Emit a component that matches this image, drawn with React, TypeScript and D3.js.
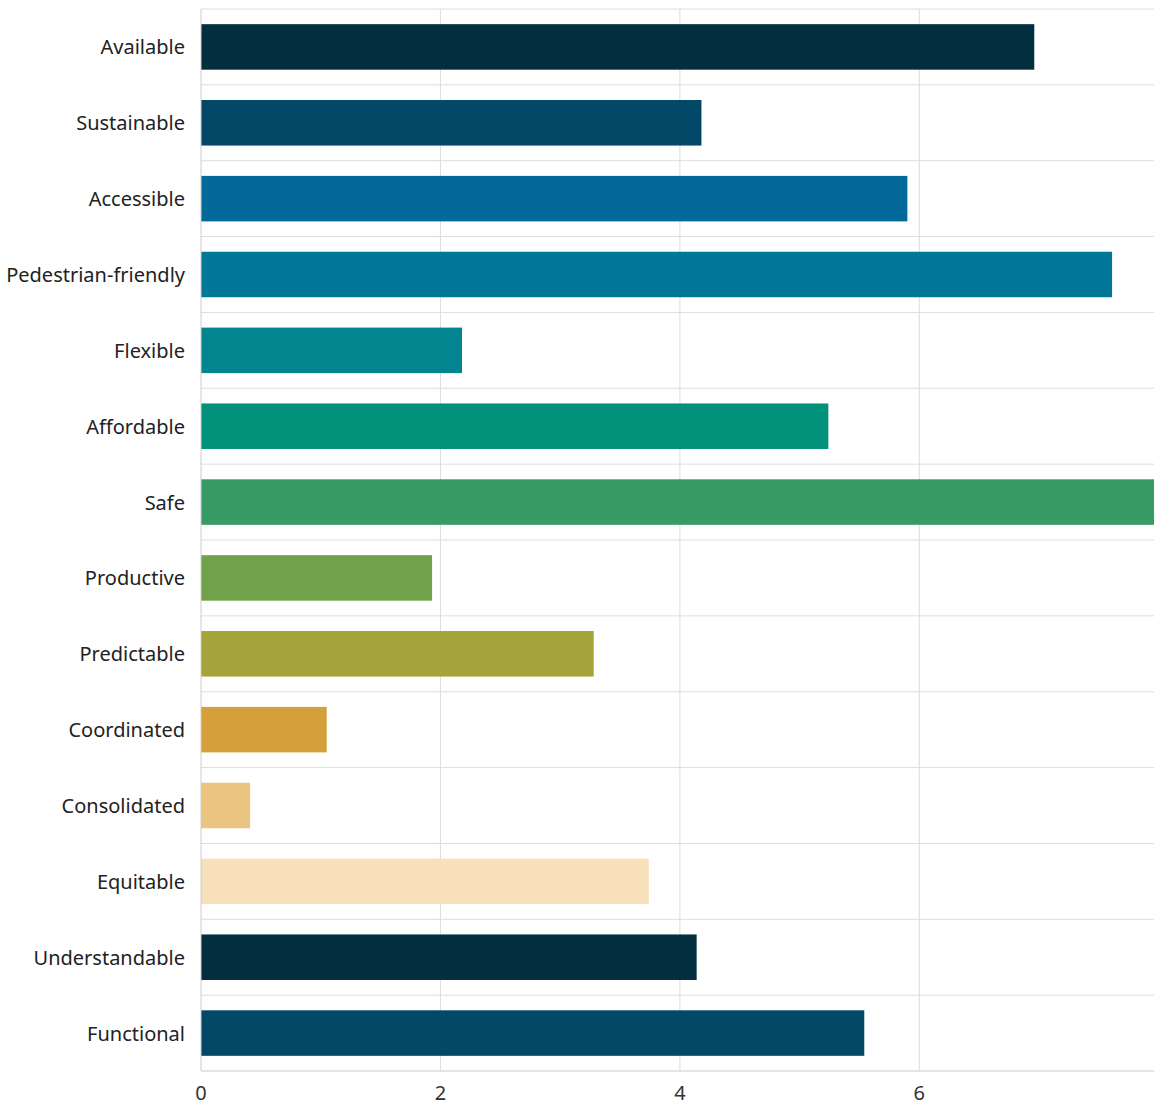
import React from "react";
import * as d3 from "d3";

const categories = [
  "Available",
  "Sustainable",
  "Accessible",
  "Pedestrian-friendly",
  "Flexible",
  "Affordable",
  "Safe",
  "Productive",
  "Predictable",
  "Coordinated",
  "Consolidated",
  "Equitable",
  "Understandable",
  "Functional",
];
const values = [6.96, 4.18, 5.9, 7.61, 2.18, 5.24, 8.0, 1.93, 3.28, 1.05, 0.41, 3.74, 4.14, 5.54];
const colors = [
  "#022e40", "#034866", "#02699a", "#017898", "#02858f", "#02917b", "#389b65",
  "#71a24b", "#a3a43a", "#d59f3c", "#ebc482", "#f7e0bb", "#022e40", "#034866",
];
const xTicks = [0, 2, 4, 6];
const xMax = 7.96;

const W = 1154;
const H = 1106;
const left = 201;
const right = 1154;
const top = 9;
const bottom = 1071;

export default function App() {
  const x = d3.scaleLinear().domain([0, xMax]).range([left, right]);
  const y = d3.scaleBand<string>().domain(categories).range([top, bottom]).paddingInner(0.4).paddingOuter(0.2);
  const step = y.step();
  const font = "'Segoe UI', 'Noto Sans', 'Open Sans', sans-serif";
  return (
    <svg width={W} height={H} style={{ position: "absolute", left: 0, top: 0 }} fontFamily={font}>
      <defs>
        <clipPath id="plot">
          <rect x={left} y={0} width={right - left} height={H} />
        </clipPath>
      </defs>
      {categories.map((c, i) => (
        <line key={"h" + i} x1={left} x2={right} y1={top + i * step} y2={top + i * step} stroke="#dddddd" strokeWidth={1} />
      ))}
      <line x1={left} x2={right} y1={bottom} y2={bottom} stroke="#dddddd" strokeWidth={1.5} />
      {xTicks.slice(1).map((t) => (
        <line key={"v" + t} x1={x(t)} x2={x(t)} y1={top} y2={bottom} stroke="#dddddd" strokeWidth={1} />
      ))}
      <g clipPath="url(#plot)">
        {categories.map((c, i) => (
          <rect key={c} x={x(0)} y={y(c)} width={x(values[i]) - x(0)} height={y.bandwidth()} fill={colors[i]} />
        ))}
      </g>
      <line x1={left} x2={left} y1={top} y2={bottom} stroke="#cccccc" strokeWidth={1} />
      {categories.map((c) => (
        <text key={"l" + c} x={left - 16} y={(y(c) ?? 0) + y.bandwidth() / 2} textAnchor="end" dominantBaseline="central" fontSize={20} fill="#222">
          {c}
        </text>
      ))}
      {xTicks.map((t) => (
        <text key={"t" + t} x={x(t)} y={1100} textAnchor="middle" fontSize={20} fill="#333">
          {t}
        </text>
      ))}
    </svg>
  );
}
